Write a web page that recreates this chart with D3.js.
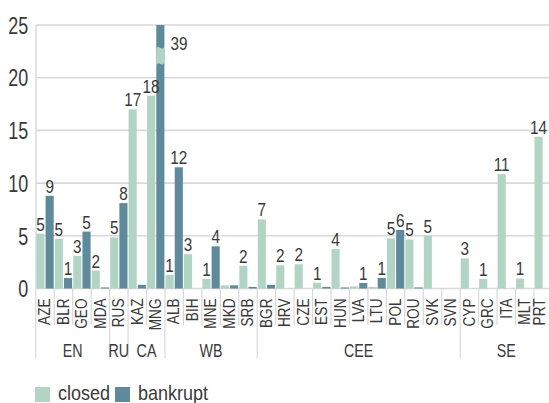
<!DOCTYPE html>
<html>
<head>
<meta charset="utf-8">
<script src="https://cdn.jsdelivr.net/npm/d3@7"></script>
<style>
  html, body { margin: 0; padding: 0; background: #fff; }
  svg { display: block; font-family: "Liberation Sans Narrow", "Liberation Sans", "DejaVu Sans Condensed", sans-serif; }
</style>
</head>
<body>
<svg id="chart" width="549" height="403"></svg>
<script>
// ---- data ----
const countries = ["AZE","BLR","GEO","MDA","RUS","KAZ","MNG","ALB","BIH","MNE","MKD","SRB",
  "BGR","HRV","CZE","EST","HUN","LVA","LTU","POL","ROU","SVK","SVN","CYP","GRC","ITA","MLT","PRT"];
const closed = [5.2,4.7,3.1,1.7, 4.85, 17.0,18.3, 1.3,3.25,0.9,0.3,2.15,
  6.55,2.2,2.3,0.55,3.75,0.2,0.15,4.75,4.65,5.0,0, 2.85,0.9,10.85,0.95,14.4];
const bankrupt = [8.8,1.0,5.4,0.1, 8.1, 0.35,39, 11.5,0,4.0,0.3,0.15,
  0.35,0,0,0.15,0.1,0.52,1.0,5.55,0.1,0,0, 0,0,0,0,0];
const groupNames = ["EN","RU","CA","WB","CEE","SE"];
const groupSizes = [4,1,2,5,11,5];
const yTicks = [0,5,10,15,20,25];
const seriesNames = ["closed","bankrupt"];
const colors = {closed: "#b1d4c5", bankrupt: "#5e8a9b"};
const yMax = 25;

// ---- layout ----
const W = 549;
const svg = d3.select("#chart");
const left = 35.8, step = 18.45;
const x = d3.scaleBand().domain(countries).range([left, left + countries.length * step]).padding(0);
const xs = d3.scaleBand().domain(seriesNames).range([0, x.bandwidth()]).paddingInner(0.12).paddingOuter(0.06);
const y = d3.scaleLinear().domain([0, yMax]).range([288.5, 25]);
const textColor = "#3a3a3a";
const gridColor = "#d9d9d9";

// gridlines
svg.append("g").selectAll("line").data(yTicks).join("line")
  .attr("x1", 36).attr("x2", W)
  .attr("y1", d => y(d)).attr("y2", d => y(d))
  .attr("stroke", gridColor).attr("stroke-width", 1.6);
// left axis line
svg.append("line").attr("x1", 36).attr("x2", 36).attr("y1", y(yMax)).attr("y2", y(0))
  .attr("stroke", gridColor).attr("stroke-width", 1.4);

// y axis labels
const yAxis = svg.append("g").attr("transform", "translate(36,0)")
  .call(d3.axisLeft(y).tickValues(yTicks).tickSize(0).tickFormat(d3.format("d")));
yAxis.select(".domain").remove();
yAxis.selectAll("text")
  .attr("x", -10).attr("dy", "0.36em")
  .attr("transform", "scale(0.78,1)")
  .attr("fill", textColor).style("font-size", "23px").style("font-family", null);

// separators
const groupBounds = [0];
groupSizes.reduce((acc, s) => { groupBounds.push(acc + s); return acc + s; }, 0);
svg.append("g").selectAll("line").data(d3.range(countries.length + 1)).join("line")
  .attr("x1", i => left + i * step).attr("x2", i => left + i * step)
  .attr("y1", y(0)).attr("y2", i => groupBounds.includes(i) ? 358 : 325)
  .attr("stroke", gridColor).attr("stroke-width", 1.2);

// bars
const rows = countries.map((c, i) => ({country: c, closed: closed[i], bankrupt: bankrupt[i]}));
const bars = [];
rows.forEach(r => seriesNames.forEach(s => bars.push({country: r.country, key: s, value: r[s]})));
svg.append("g").selectAll("rect").data(bars.filter(d => d.value > 0)).join("rect")
  .attr("x", d => x(d.country) + xs(d.key))
  .attr("width", xs.bandwidth())
  .attr("y", d => y(Math.min(d.value, yMax)))
  .attr("height", d => y(0) - y(Math.min(d.value, yMax)))
  .attr("fill", d => colors[d.key]);

// break mark on truncated bars
const broken = bars.filter(d => d.value > yMax);
svg.append("g").selectAll("path").data(broken).join("path")
  .attr("d", d => {
    const x0 = x(d.country) + xs(d.key), w = xs.bandwidth();
    const t = y(yMax) + 22, b = y(yMax) + 38;
    return `M${x0},${t+2} C${x0+w*0.35},${t-4} ${x0+w*0.65},${t+6} ${x0+w},${t-1}` +
      ` L${x0+w},${b-1} C${x0+w*0.65},${b+6} ${x0+w*0.35},${b-4} ${x0},${b+3} Z`;
  })
  .attr("fill", colors.closed);

// value labels
const labelled = bars.filter(d => Math.round(d.value) >= 1);
svg.append("g").selectAll("text").data(labelled).join("text")
  .attr("transform", d => {
    const cx = x(d.country) + xs(d.key) + xs.bandwidth() / 2;
    if (d.value > yMax) return `translate(${x(d.country) + xs(d.key) + xs.bandwidth() + 6},${y(yMax) + 25}) scale(0.85,1)`;
    return `translate(${cx},${y(d.value) - 3}) scale(0.85,1)`;
  })
  .attr("text-anchor", d => d.value > yMax ? "start" : "middle")
  .attr("fill", textColor).style("font-size", "18px")
  .text(d => Math.round(d.value));

// country labels
const labelFont = 17;
const xAxis = svg.append("g").attr("transform", `translate(0,${y(0)})`)
  .call(d3.axisBottom(x).tickSize(0));
xAxis.select(".domain").remove();
xAxis.selectAll("text")
  .attr("x", 0).attr("y", 0).attr("dy", 0)
  .attr("text-anchor", "end")
  .attr("transform", d => {
    const cx = x(d) + x.bandwidth() / 2;
    const off = Math.min(5.3, W - cx - labelFont * 0.22 - 0.5);
    return `translate(${off},10) rotate(-90) scale(0.8,1)`;
  })
  .attr("fill", textColor).style("font-size", labelFont + "px").style("font-family", null);

// group labels
svg.append("g").selectAll("text").data(groupNames).join("text")
  .attr("transform", (g, i) => {
    const cx = left + (groupBounds[i] + groupBounds[i + 1]) / 2 * step;
    return `translate(${cx},357) scale(0.75,1)`;
  })
  .attr("text-anchor", "middle")
  .attr("fill", textColor).style("font-size", "19px")
  .text(d => d);

// legend
const legend = svg.append("g");
const legendX = [35, 115];
seriesNames.forEach((s, i) => {
  legend.append("rect").attr("x", legendX[i]).attr("y", 387).attr("width", 15).attr("height", 15)
    .attr("fill", colors[s]);
  legend.append("text")
    .attr("transform", `translate(${legendX[i] + 23},400) scale(0.9,1)`)
    .attr("fill", textColor).style("font-size", "20px")
    .text(s);
});
</script>
</body>
</html>
